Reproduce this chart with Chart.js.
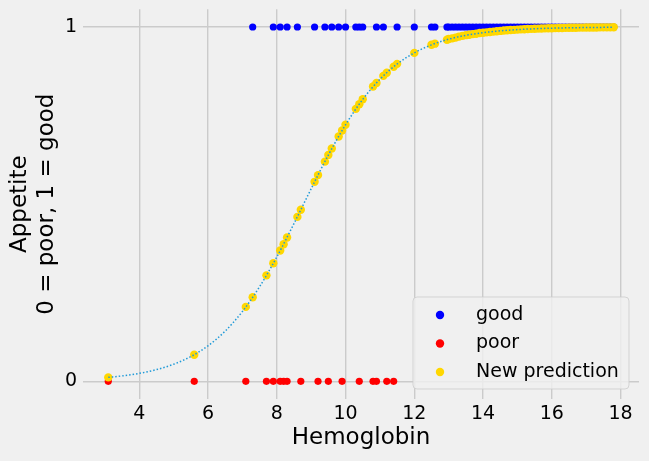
<!DOCTYPE html>
<html>
<head>
<meta charset="utf-8">
<script src="https://cdn.jsdelivr.net/npm/chart.js@4/dist/chart.umd.min.js"></script>
<style>
  html, body { margin: 0; padding: 0; background: #f0f0f0; }
  #wrap { width: 649px; height: 461px; }
</style>
</head>
<body>
<div id="wrap"><canvas id="c" width="649" height="461"></canvas></div>
<script>
// ---- data ----
const goodX = [7.3, 7.9, 8.1, 8.3, 8.6, 9.1, 9.4, 9.6, 9.8, 10.0, 10.3, 10.4, 10.5, 10.9, 11.1, 11.5, 12.0, 12.5, 12.6, 12.95,
  13.0, 13.1, 13.2, 13.3, 13.4, 13.5, 13.6, 13.7, 13.8, 13.9, 14.0, 14.1, 14.2, 14.3, 14.4, 14.5, 14.6, 14.7, 14.8, 14.9,
  15.0, 15.1, 15.2, 15.3, 15.4, 15.5, 15.6, 15.7, 15.8, 15.9, 16.0, 16.1, 16.2, 16.3, 16.4, 16.5, 16.6, 16.7, 16.8, 16.9,
  17.0, 17.1, 17.2, 17.3, 17.4, 17.5, 17.6, 17.7, 17.8];
const goodY = 1;
const poorX = [3.1, 5.6, 7.1, 7.7, 7.9, 8.1, 8.2, 8.3, 8.7, 9.2, 9.5, 9.9, 10.4, 10.8, 10.9, 11.2, 11.4];
const poorY = 0;

const predX = [3.1, 5.6, 7.1, 7.3, 7.7, 7.9, 8.1, 8.2, 8.3, 8.6, 8.7, 9.1, 9.2, 9.4, 9.5, 9.6, 9.8, 9.9, 10.0, 10.3,
  10.4, 10.5, 10.8, 10.9, 11.1, 11.2, 11.4, 11.5, 12.0, 12.5, 12.6, 12.95,
  13.0, 13.1, 13.2, 13.3, 13.4, 13.5, 13.6, 13.7, 13.8, 13.9, 14.0, 14.1, 14.2, 14.3, 14.4, 14.5, 14.6, 14.7, 14.8, 14.9,
  15.0, 15.1, 15.2, 15.3, 15.4, 15.5, 15.6, 15.7, 15.8, 15.9, 16.0, 16.1, 16.2, 16.3, 16.4, 16.5, 16.6, 16.7, 16.8, 16.9,
  17.0, 17.1, 17.2, 17.3, 17.4, 17.5, 17.6, 17.7, 17.8];
const predY = [0.011, 0.075, 0.210, 0.237, 0.299, 0.333, 0.369, 0.387, 0.406, 0.464, 0.484, 0.563, 0.582, 0.620, 0.639, 0.657, 0.691, 0.708, 0.724, 0.769,
  0.782, 0.796, 0.832, 0.842, 0.862, 0.871, 0.888, 0.896, 0.927, 0.950, 0.953, 0.964,
  0.966, 0.968, 0.970, 0.973, 0.975, 0.977, 0.978, 0.980, 0.981, 0.983, 0.984, 0.985, 0.986, 0.987, 0.988, 0.989, 0.990, 0.991, 0.9915, 0.992,
  0.9927, 0.9933, 0.9938, 0.9943, 0.9947, 0.9951, 0.9955, 0.9958, 0.9961, 0.9964, 0.9967, 0.9969, 0.9972, 0.9974, 0.9976, 0.9978, 0.9979, 0.9981, 0.9982, 0.9984,
  0.9985, 0.9986, 0.9987, 0.9988, 0.9989, 0.9990, 0.9991, 0.9991, 0.9992];

const curveX = [3.1, 3.5, 4.0, 4.5, 5.0, 5.5, 6.0, 6.5, 7.0, 7.5, 8.0, 8.5, 9.0, 9.5, 10.0, 10.5, 11.0, 11.5, 12.0, 12.5,
  13.0, 13.5, 14.0, 14.5, 15.0, 15.5, 16.0, 16.5, 17.0, 17.5, 17.8];
const curveY = [0.0111, 0.0152, 0.0224, 0.0329, 0.0481, 0.0697, 0.1001, 0.1417, 0.1969, 0.2668, 0.3507, 0.4450, 0.5434, 0.6386, 0.7239, 0.7956, 0.8525, 0.8956, 0.9271, 0.9497,
  0.9656, 0.9766, 0.9841, 0.9892, 0.9927, 0.9951, 0.9967, 0.9978, 0.9985, 0.9990, 0.9992];

const xTicks = [4, 6, 8, 10, 12, 14, 16, 18];
const yTicks = [0, 1];
const yTickLabels = ['0', '1'];
const xLabel = 'Hemoglobin';
const yLabel = ['Appetite', '0 = poor, 1 = good'];
const seriesNames = ['good', 'poor', 'New prediction'];

// ---- chart ----
const FONT = 'DejaVu Sans';
const bgPlugin = {
  id: 'bg',
  beforeDraw(chart) {
    const ctx = chart.ctx;
    ctx.save();
    ctx.fillStyle = '#f0f0f0';
    ctx.fillRect(0, 0, chart.width, chart.height);
    ctx.restore();
  }
};
const legendPlugin = {
  id: 'boxLegend',
  afterDraw(chart) {
    const ctx = chart.ctx;
    const a = chart.chartArea;
    const x0 = a.right - 226, y0 = a.bottom - 102, w = 216, h = 92, r = 4;
    ctx.save();
    ctx.beginPath();
    ctx.roundRect(x0, y0, w, h, r);
    ctx.fillStyle = 'rgba(240,240,240,0.8)';
    ctx.fill();
    ctx.lineWidth = 1;
    ctx.strokeStyle = 'rgba(204,204,204,0.8)';
    ctx.stroke();
    const items = [0, 1, 2];
    items.forEach((di, i) => {
      const ds = chart.data.datasets[di];
      const cy = y0 + 18 + i * 28.5;
      ctx.beginPath();
      ctx.arc(x0 + 27, cy, 4.2, 0, Math.PI * 2);
      ctx.fillStyle = ds.backgroundColor;
      ctx.fill();
      ctx.fillStyle = '#000';
      ctx.font = '19px "' + FONT + '"';
      ctx.textBaseline = 'middle';
      ctx.textAlign = 'left';
      ctx.fillText(ds.label, x0 + 63, cy);
    });
    ctx.restore();
  }
};

new Chart(document.getElementById('c'), {
  type: 'scatter',
  data: {
    datasets: [
      { label: seriesNames[0], data: goodX.map(x => ({ x: x, y: goodY })), backgroundColor: '#0000ff', borderWidth: 0, pointRadius: 3.6, order: 4 },
      { label: seriesNames[1], data: poorX.map(x => ({ x: x, y: poorY })), backgroundColor: '#ff0000', borderWidth: 0, pointRadius: 3.6, order: 3 },
      { label: seriesNames[2], data: predX.map((x, i) => ({ x: x, y: predY[i] })), backgroundColor: '#ffd700', borderWidth: 0, pointRadius: 4.2, order: 2 },
      { type: 'line', label: 'fit', data: curveX.map((x, i) => ({ x: x, y: curveY[i] })), borderColor: '#1f9ad8', borderWidth: 1.5,
        borderDash: [1.5, 2], pointRadius: 0, fill: false, tension: 0.4, cubicInterpolationMode: 'monotone', order: 1 }
    ]
  },
  options: {
    responsive: false,
    animation: false,
    devicePixelRatio: 1,
    layout: { autoPadding: false, padding: { top: 9.3, right: 10, left: 0, bottom: 0 } },
    plugins: { legend: { display: false }, tooltip: { enabled: false } },
    scales: {
      x: {
        type: 'linear', min: 2.365, max: 18.535,
        afterBuildTicks: s => { s.ticks = xTicks.map(v => ({ value: v })); },
        afterFit: s => { s.height = 62; },
        grid: { color: '#cbcbcb', lineWidth: 1.4, drawTicks: false },
        border: { display: false },
        ticks: { padding: 4, color: '#000', font: { family: FONT, size: 19 }, callback: v => String(v) },
        title: { display: true, text: xLabel, color: '#000', font: { family: FONT, size: 23 }, padding: { bottom: 9, top: 0 } }
      },
      y: {
        type: 'linear', min: -0.05, max: 1.05,
        afterBuildTicks: s => { s.ticks = yTicks.map(v => ({ value: v })); },
        afterFit: s => { s.width = 83; },
        grid: { color: '#cbcbcb', lineWidth: 1.4, drawTicks: false },
        border: { display: false },
        ticks: { padding: 6, color: '#000', font: { family: FONT, size: 19, lineHeight: 0.2 }, callback: v => yTickLabels[yTicks.indexOf(v)] },
        title: { display: true, text: yLabel, color: '#000', font: { family: FONT, size: 23, lineHeight: 1.17 }, padding: { top: 7, bottom: 0 } }
      }
    }
  },
  plugins: [bgPlugin, legendPlugin]
});
</script>
</body>
</html>
